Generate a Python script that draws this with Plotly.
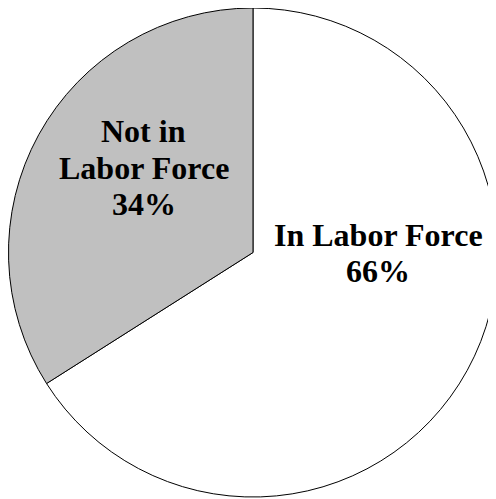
import plotly.graph_objects as go

labels = ['In Labor Force', 'Not in<br>Labor Force']
values = [66, 34]
colors = ['#FFFFFF', '#C0C0C0']

fig = go.Figure(go.Pie(
    labels=labels,
    values=values,
    sort=False,
    direction='clockwise',
    rotation=0,
    marker=dict(colors=colors, line=dict(color='#000000', width=1)),
    textinfo='none',
    hoverinfo='skip',
    showlegend=False,
    domain=dict(x=[0, 0.9879], y=[0.02, 1]),
))

# label placement (paper coords of first line centre) for each slice
label_pos = [(0.746, 0.546), (0.274, 0.7535)]
line_gap = 36.5
total = sum(values)

for lab, val, (px, py) in zip(labels, values, label_pos):
    lines = lab.split('<br>') + [f'{round(100 * val / total)}%']
    for i, line in enumerate(lines):
        fig.add_annotation(
            x=px, y=py, xref='paper', yref='paper',
            text=f'<b>{line}</b>',
            showarrow=False,
            xanchor='center', yanchor='middle',
            yshift=-i * line_gap,
            font=dict(family='Liberation Serif', size=32, color='#000000'),
        )

fig.update_layout(
    width=496,
    height=499,
    margin=dict(l=0, r=0, t=0, b=0),
    paper_bgcolor='#FFFFFF',
)

fig.write_html('out.html')
